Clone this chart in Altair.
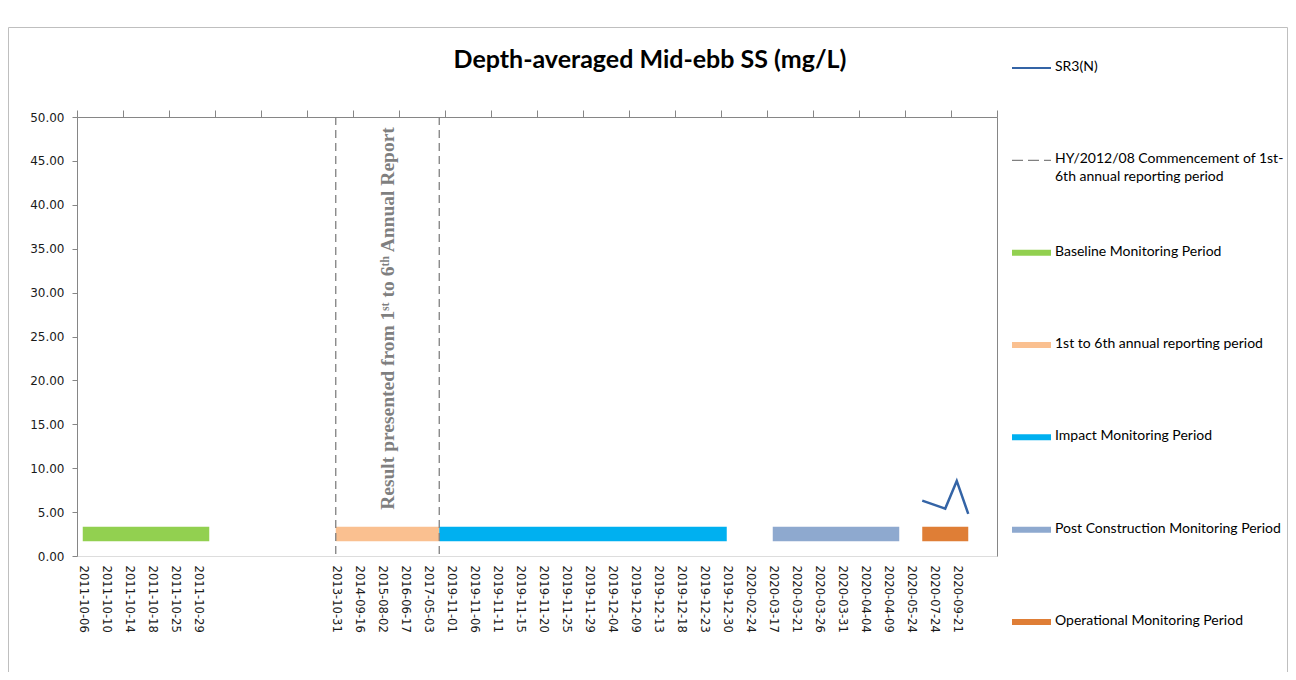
import altair as alt
import pandas as pd
import json

# ---------------- data ----------------
# one label for every second category slot ("" = unlabeled slot)
slot_labels = [
    "2011-10-06", "2011-10-10", "2011-10-14", "2011-10-18", "2011-10-25", "2011-10-29",
    "", "", "", "", "",
    "2013-10-31", "2014-09-16", "2015-08-02", "2016-06-17", "2017-05-03",
    "2019-11-01", "2019-11-06", "2019-11-11", "2019-11-15", "2019-11-20", "2019-11-25",
    "2019-11-29", "2019-12-04", "2019-12-09", "2019-12-13", "2019-12-18", "2019-12-23",
    "2019-12-30", "2020-02-24", "2020-03-17", "2020-03-21", "2020-03-26", "2020-03-31",
    "2020-04-04", "2020-04-09", "2020-05-24", "2020-07-24", "2020-09-21", "",
]
n_categories = 80

period_names = [
    "Baseline Monitoring Period",
    "1st to 6th annual reporting period",
    "Impact Monitoring Period",
    "Post Construction Monitoring Period",
    "Operational Monitoring Period",
]
period_start = [0, 22, 31, 60, 73]
period_end = [11, 31, 56, 71, 77]
period_level = [2.5, 2.5, 2.5, 2.5, 2.5]
period_colors = ["#92D050", "#FAC090", "#00B0F0", "#8EA9CF", "#DF7E36"]

series_name = "SR3(N)"
sr3_cat = [73, 75, 76, 77]
sr3_val = [6.3, 5.4, 8.55, 4.8]
sr3_color = "#3464A6"

commence_name = "HY/2012/08 Commencement of 1st-\n6th annual reporting period"
commence_cat = [22, 31]
commence_top = [50, 50]
commence_bottom = [0, 0]

note_text = "Result presented from 1ˢᵗ to 6ᵗʰ Annual Report"
note_cat = [27]
note_val = [27.05]

title_text = "Depth-averaged Mid-ebb SS (mg/L)"
y_ticks = [0, 5, 10, 15, 20, 25, 30, 35, 40, 45, 50]

# ---------------- layout ----------------
W, H = 920, 439
PAD = {"left": 69, "top": 109, "right": 291, "bottom": 116}
AXIS_GREY = "#868686"
LABEL_FONT = "DejaVu Sans"
LEGEND_FONT = "Lato"

xs = alt.Scale(domain=[0, n_categories], nice=False, zero=False)
ys = alt.Scale(domain=[0, 50], nice=False, zero=False)

label_expr = json.dumps(slot_labels) + "[floor(datum.value / 2)]"

x_label_axis = alt.Axis(
    values=[2 * k + 0.5 for k in range(len(slot_labels))],
    labelExpr=label_expr, labelAngle=90, ticks=False, domain=False, grid=False,
    labelPadding=9, labelFont=LABEL_FONT, labelFontSize=11.6, labelColor="#1a1a1a",
    labelOverlap=False, labelFlush=False, title=None,
)
x_tick_axis = alt.Axis(
    values=list(range(0, n_categories + 1, 4)), labels=False, tickSize=7,
    tickColor=AXIS_GREY, domainColor=AXIS_GREY, grid=False, title=None,
)
y_left_axis = alt.Axis(
    values=y_ticks, format=".2f", tickSize=5, tickColor=AXIS_GREY,
    domainColor=AXIS_GREY, grid=False, labelPadding=8, labelFont=LABEL_FONT,
    labelFontSize=12, labelColor="#1a1a1a", title=None, labelFlush=False,
)
y_right_axis = alt.Axis(
    orient="right", labels=False, ticks=False, grid=False,
    domainColor=AXIS_GREY, title=None,
)

periods_df = pd.DataFrame({
    "name": period_names,
    "x0": [s + 0.5 for s in period_start],
    "x1": [e + 0.5 for e in period_end],
    "lvl": period_level,
    "color": period_colors,
})
periods = alt.Chart(periods_df).mark_rule(strokeWidth=14.5, strokeCap="butt").encode(
    x=alt.X("x0:Q", scale=xs, axis=x_label_axis),
    x2="x1:Q",
    y=alt.Y("lvl:Q", scale=ys, axis=y_left_axis),
    color=alt.Color("color:N", scale=None),
)

sr3_df = pd.DataFrame({"xc": [c + 0.5 for c in sr3_cat], "v": sr3_val})
sr3 = alt.Chart(sr3_df).mark_line(color=sr3_color, strokeWidth=2.5, strokeJoin="miter").encode(
    x=alt.X("xc:Q", scale=xs, axis=x_tick_axis),
    y=alt.Y("v:Q", scale=ys, axis=y_right_axis),
)

dash_df = pd.DataFrame({
    "xc": [c + 0.5 for c in commence_cat],
    "top": commence_top, "bottom": commence_bottom,
})
dashed = alt.Chart(dash_df).mark_rule(color="#808080", strokeDash=[8, 5], strokeWidth=1.3).encode(
    x=alt.X("xc:Q", scale=xs, axis=None),
    y=alt.Y("top:Q", scale=ys, axis=None),
    y2="bottom:Q",
)

note_df = pd.DataFrame({"x": note_cat, "y": note_val, "t": [note_text]})
note = alt.Chart(note_df).mark_text(
    angle=270, font="Liberation Serif", fontWeight="bold", fontSize=19.5,
    color="#7f7f7f", align="center", baseline="middle",
).encode(
    x=alt.X("x:Q", scale=xs, axis=None),
    y=alt.Y("y:Q", scale=ys, axis=None),
    text="t:N",
)

main = alt.layer(periods, dashed, sr3, note).resolve_axis(x="independent", y="independent")

# ---------------- legend ----------------
legend_labels = [series_name, commence_name] + period_names
legend_colors = [sr3_color, "#808080"] + period_colors
legend_widths = [2, 1.3] + [6] * len(period_names)
legend_dashed = [0, 1] + [0] * len(period_names)
leg_df = pd.DataFrame({
    "idx": list(range(len(legend_labels))),
    "label": legend_labels,
    "color": legend_colors,
    "w": legend_widths,
    "dashed": legend_dashed,
})
leg_y = alt.Y("idx:Q", scale=alt.Scale(domain=[0, len(legend_labels) - 1], range=[-49, 505],
                                       nice=False, zero=False), axis=None)
leg_solid = alt.Chart(leg_df).transform_filter("datum.dashed == 0").mark_rule(strokeCap="butt").encode(
    x=alt.value(935), x2=alt.value(974), y=leg_y,
    color=alt.Color("color:N", scale=None),
    strokeWidth=alt.StrokeWidth("w:Q", scale=None),
)
leg_dash = alt.Chart(leg_df).transform_filter("datum.dashed == 1").mark_rule(
    strokeCap="butt", strokeDash=[11, 5]).encode(
    x=alt.value(935), x2=alt.value(974), y=leg_y,
    color=alt.Color("color:N", scale=None),
    strokeWidth=alt.StrokeWidth("w:Q", scale=None),
)
leg_text = alt.Chart(leg_df).mark_text(
    align="left", baseline="top", dy=-8, font=LEGEND_FONT, fontSize=14,
    color="#000000", lineBreak="\n", lineHeight=18,
).encode(x=alt.value(978), y=leg_y, text="label:N")
legend = alt.layer(leg_solid, leg_dash, leg_text)

# ---------------- title & frame ----------------
title = alt.Chart(pd.DataFrame({"t": [title_text]})).mark_text(
    font=LEGEND_FONT, fontWeight="bold", fontSize=25, color="#000000",
    align="center", baseline="middle",
).encode(x=alt.value(573), y=alt.value(-57), text="t:N")

frame = alt.Chart(pd.DataFrame({"a": [0]})).mark_rect(
    fillOpacity=0, stroke="#BFBFBF", strokeWidth=1,
).encode(x=alt.value(-68.5), x2=alt.value(1210.5), y=alt.value(-89.5), y2=alt.value(600))

chart = alt.layer(frame, title, main, legend).resolve_scale(
    x="independent", y="independent"
).properties(
    width=W, height=H,
    autosize=alt.AutoSizeParams(type="none"),
    padding=PAD,
).configure_view(stroke=None).configure(background="white")

chart.save("out.html", embed_options={"renderer": "svg", "actions": False})
